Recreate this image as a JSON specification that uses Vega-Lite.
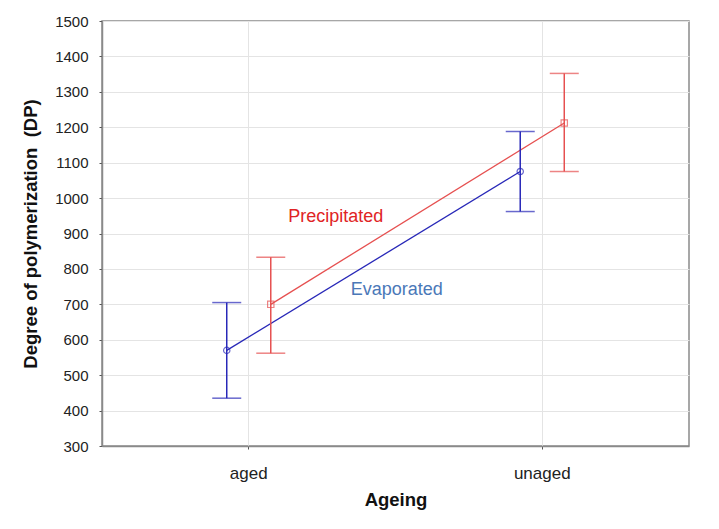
{
  "$schema": "https://vega.github.io/schema/vega-lite/v6.json",
  "width": 587,
  "height": 425,
  "autosize": {"type": "none"},
  "padding": {"left": 102, "top": 21, "right": 30, "bottom": 83},
  "background": "white",
  "data": {
    "values": [
      {"ageing": "aged", "type": "Evaporated", "mean": 570, "lo": 435, "hi": 705},
      {"ageing": "aged", "type": "Precipitated", "mean": 700, "lo": 562, "hi": 833},
      {"ageing": "unaged", "type": "Evaporated", "mean": 1075, "lo": 962, "hi": 1188},
      {"ageing": "unaged", "type": "Precipitated", "mean": 1212, "lo": 1075, "hi": 1352}
    ]
  },
  "encoding": {
    "x": {
      "field": "ageing",
      "type": "nominal",
      "title": "Ageing",
      "scale": {"type": "band", "paddingInner": 0.7, "paddingOuter": 0.35},
      "axis": {
        "labelAngle": 0,
        "labelFontSize": 17,
        "labelPadding": 16,
        "titleFontSize": 18.5,
        "titleFontWeight": "bold",
        "titlePadding": 9,
        "grid": true,
        "bandPosition": 0.5,
        "tickSize": 3,
        "tickBand": "center"
      }
    },
    "xOffset": {
      "field": "type",
      "type": "nominal",
      "sort": ["Evaporated", "Precipitated"],
      "scale": {"type": "band", "paddingInner": 0, "paddingOuter": 0}
    },
    "color": {
      "field": "type",
      "type": "nominal",
      "scale": {"domain": ["Evaporated", "Precipitated"], "range": ["#2828b8", "#e65050"]},
      "legend": null
    }
  },
  "layer": [
    {
      "mark": {"type": "line", "strokeWidth": 1.3},
      "encoding": {
        "y": {
          "field": "mean",
          "type": "quantitative",
          "title": "Degree of polymerization\u00a0\u00a0(DP)",
          "scale": {"domain": [300, 1500], "nice": false, "zero": false},
          "axis": {"values": [300, 400, 500, 600, 700, 800, 900, 1000, 1100, 1200, 1300, 1400, 1500]}
        },
        "detail": {"field": "type"}
      }
    },
    {
      "mark": {"type": "rule", "strokeWidth": 1.5},
      "encoding": {
        "y": {"field": "lo", "type": "quantitative", "title": "Degree of polymerization\u00a0\u00a0(DP)", "axis": {"values": [300, 400, 500, 600, 700, 800, 900, 1000, 1100, 1200, 1300, 1400, 1500]}},
        "y2": {"field": "hi"}
      }
    },
    {
      "mark": {"type": "tick", "orient": "horizontal", "size": 29, "thickness": 1.5},
      "encoding": {
        "y": {"field": "lo", "type": "quantitative", "title": "Degree of polymerization\u00a0\u00a0(DP)", "axis": {"values": [300, 400, 500, 600, 700, 800, 900, 1000, 1100, 1200, 1300, 1400, 1500]}}
      }
    },
    {
      "mark": {"type": "tick", "orient": "horizontal", "size": 29, "thickness": 1.5},
      "encoding": {
        "y": {"field": "hi", "type": "quantitative", "title": "Degree of polymerization\u00a0\u00a0(DP)", "axis": {"values": [300, 400, 500, 600, 700, 800, 900, 1000, 1100, 1200, 1300, 1400, 1500]}}
      }
    },
    {
      "mark": {"type": "point", "filled": false, "strokeWidth": 1.2, "size": 40},
      "encoding": {
        "y": {"field": "mean", "type": "quantitative", "title": "Degree of polymerization\u00a0\u00a0(DP)", "axis": {"values": [300, 400, 500, 600, 700, 800, 900, 1000, 1100, 1200, 1300, 1400, 1500]}},
        "shape": {
          "field": "type",
          "type": "nominal",
          "scale": {"domain": ["Evaporated", "Precipitated"], "range": ["circle", "square"]},
          "legend": null
        }
      }
    },
    {
      "data": {"values": [{"ageing": "aged", "label": "Precipitated"}]},
      "mark": {"type": "text", "fontSize": 18, "color": "#e02424", "align": "center", "dx": 87},
      "encoding": {
        "xOffset": null,
        "color": null,
        "y": {"datum": 946, "type": "quantitative", "title": "Degree of polymerization\u00a0\u00a0(DP)", "axis": {"values": [300, 400, 500, 600, 700, 800, 900, 1000, 1100, 1200, 1300, 1400, 1500]}},
        "text": {"field": "label"}
      }
    },
    {
      "data": {"values": [{"ageing": "aged", "label": "Evaporated"}]},
      "mark": {"type": "text", "fontSize": 18, "color": "#4a78b8", "align": "center", "dx": 148},
      "encoding": {
        "xOffset": null,
        "color": null,
        "y": {"datum": 740, "type": "quantitative", "title": "Degree of polymerization\u00a0\u00a0(DP)", "axis": {"values": [300, 400, 500, 600, 700, 800, 900, 1000, 1100, 1200, 1300, 1400, 1500]}},
        "text": {"field": "label"}
      }
    }
  ],
  "config": {
    "font": "Liberation Sans",
    "view": {"stroke": "#8a8a8a", "strokeWidth": 1.5},
    "axis": {
      "labelColor": "#222222",
      "titleColor": "#111111",
      "labelFont": "Liberation Sans",
      "titleFont": "Liberation Sans",
      "domainColor": "#8a8a8a",
      "domainWidth": 1.5,
      "tickColor": "#555555",
      "gridColor": "#e4e4e4",
      "gridWidth": 1
    },
    "axisY": {
      "format": "d",
      "labelOverlap": false,
      "labelFontSize": 15,
      "labelPadding": 11,
      "titleFontSize": 18.5,
      "titleFontWeight": "bold",
      "titlePadding": 14,
      "tickSize": 3
    }
  }
}
